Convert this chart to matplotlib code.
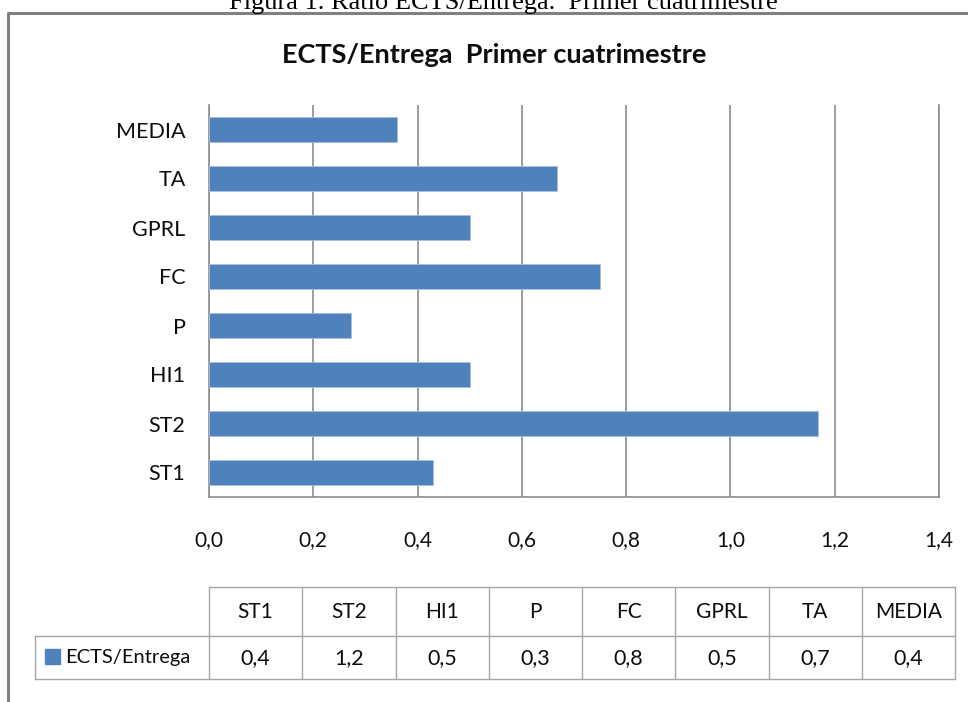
import matplotlib
matplotlib.use("Agg")
import matplotlib.pyplot as plt
from matplotlib.lines import Line2D

plt.rcParams["font.family"] = ["Lato", "DejaVu Sans"]

# ---- data ----
categories = ["ST1", "ST2", "HI1", "P", "FC", "GPRL", "TA", "MEDIA"]
ratios = [0.43, 1.167, 0.50, 0.273, 0.75, 0.50, 0.667, 0.36]
series_name = "ECTS/Entrega"
x_ticks = [0.0, 0.2, 0.4, 0.6, 0.8, 1.0, 1.2, 1.4]

bar_col = "#4F81BD"
grid_col = "#8C8C8C"
table_col = "#A6A6A6"
text_col = "#0D0D0D"

W, H = 968, 702
def fx(px): return px / W
def fy(py): return 1 - py / H

fig = plt.figure(figsize=(W / 100, H / 100), dpi=100)

# outer frame (left and top edges only show)
fig.add_artist(Line2D([fx(8), fx(8), 1.0], [0.0, fy(13), fy(13)],
                      transform=fig.transFigure, color="#808080", lw=2.2))

# caption above the frame, cut by the top edge as in the source page
fig.text(fx(503), fy(9), "Figura 1. Ratio ECTS/Entrega.  Primer cuatrimestre",
         family="Liberation Serif", fontsize=19, ha="center", va="baseline", color="black")
fig.text(fx(494), fy(63), "ECTS/Entrega  Primer cuatrimestre", fontsize=19.5,
         weight="bold", ha="center", va="baseline", color=text_col)

# ---- bar chart ----
ax = fig.add_axes([fx(209), fy(497), (939 - 209) / W, (497 - 105) / H])
ypos = list(range(len(categories)))
ax.barh(ypos, ratios, height=0.51, color=bar_col, edgecolor="#A7C0DE", linewidth=0.6, zorder=3)

ax.set_xlim(0, 1.4)
ax.set_ylim(-0.5, len(categories) - 0.5)
ax.set_xticks(x_ticks)
ax.set_xticklabels([f"{t:.1f}".replace(".", ",") for t in x_ticks])
ax.set_yticks(ypos)
ax.set_yticklabels(categories)
ax.tick_params(axis="x", length=0, pad=24, labelsize=15, labelcolor=text_col)
ax.tick_params(axis="y", length=0, pad=17, labelsize=15.5, labelcolor=text_col)
ax.xaxis.grid(True, color=grid_col, lw=1.2, zorder=0)
ax.set_axisbelow(True)
ax.spines["top"].set_visible(False)
for s in ("left", "bottom", "right"):
    ax.spines[s].set_color(grid_col)
    ax.spines[s].set_linewidth(1.2)

# ---- data table under the chart ----
col_w = 93.25
lab_w = (209 - 35) / col_w
n = len(categories)
tax = fig.add_axes([fx(35), fy(679), (955 - 35) / W, (679 - 587) / H])
tax.set_xlim(-lab_w, n)
tax.set_ylim(679, 587)
tax.axis("off")

lk = dict(color=table_col, lw=1.0, clip_on=False)
tax.plot([0, n], [587, 587], **lk)
tax.plot([-lab_w, n], [636, 636], **lk)
tax.plot([-lab_w, n], [679, 679], **lk)
tax.plot([-lab_w, -lab_w], [636, 679], **lk)
for i in range(n + 1):
    tax.plot([i, i], [587, 679], **lk)

for i, (c, v) in enumerate(zip(categories, ratios)):
    tax.text(i + 0.5, 612, c, ha="center", va="center", fontsize=15, color=text_col)
    tax.text(i + 0.5, 658, f"{v:.1f}".replace(".", ","), ha="center", va="center",
             fontsize=15.5, color=text_col)

tax.plot(-lab_w + (51.5 - 35) / col_w, 655.5, marker="s", ms=10.8, color=bar_col,
         clip_on=False, linestyle="none")
tax.text(-lab_w + (65 - 35) / col_w, 657, series_name, ha="left", va="center",
         fontsize=14.5, color=text_col)

fig.savefig("out.png", dpi=100)
